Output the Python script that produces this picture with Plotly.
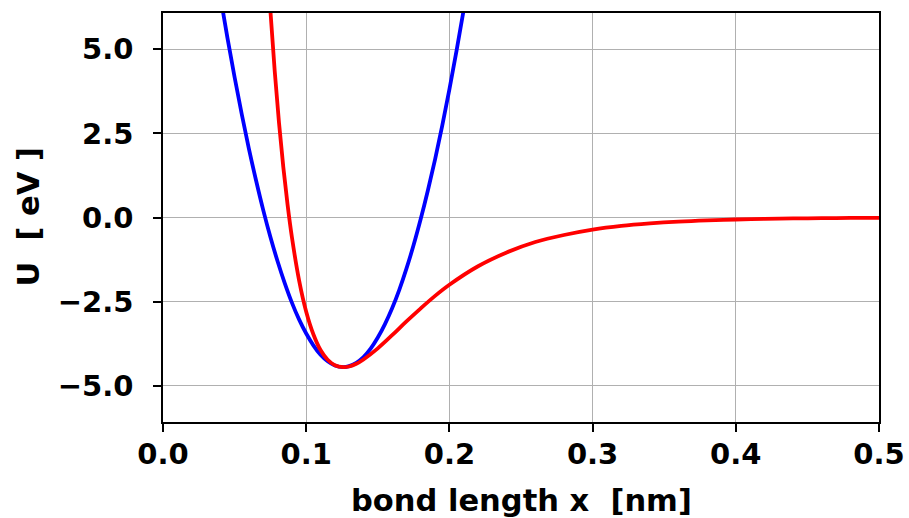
import plotly.graph_objects as go

# Morse potential (red)
morse_x = [0.072, 0.075, 0.078, 0.081, 0.084, 0.087, 0.09, 0.095, 0.1, 0.105, 0.11, 0.115,
           0.12, 0.126, 0.13, 0.135, 0.14, 0.15, 0.16, 0.17, 0.18, 0.19, 0.2, 0.22, 0.24,
           0.26, 0.28, 0.3, 0.32, 0.34, 0.36, 0.38, 0.4, 0.42, 0.44, 0.46, 0.48, 0.5]
morse_u = [8.20, 6.15, 4.36, 2.82, 1.50, 0.38, -0.58, -1.86, -2.80, -3.47, -3.94, -4.23,
           -4.39, -4.45, -4.43, -4.35, -4.22, -3.89, -3.50, -3.09, -2.70, -2.33, -2.00, -1.45, -1.04,
           -0.73, -0.52, -0.36, -0.25, -0.176, -0.122, -0.085, -0.059, -0.041, -0.028, -0.020, -0.014, -0.009]

# Harmonic approximation (blue)
harm_x = [0.04, 0.045, 0.05, 0.055, 0.06, 0.065, 0.07, 0.075, 0.08, 0.085, 0.09, 0.095,
          0.1, 0.105, 0.11, 0.115, 0.12, 0.1258, 0.13, 0.135, 0.14, 0.145, 0.15, 0.155,
          0.16, 0.165, 0.17, 0.175, 0.18, 0.185, 0.19, 0.195, 0.2, 0.205, 0.21, 0.215]
harm_u = [6.59, 5.34, 4.17, 3.07, 2.04, 1.10, 0.22, -0.58, -1.30, -1.95, -2.53, -3.03,
          -3.45, -3.80, -4.08, -4.275, -4.40, -4.45, -4.42, -4.32, -4.15, -3.90, -3.57, -3.17,
          -2.70, -2.15, -1.52, -0.82, -0.04, 0.81, 1.73, 2.73, 3.81, 4.96, 6.18, 7.49]

x_ticks = [0.0, 0.1, 0.2, 0.3, 0.4, 0.5]
y_ticks = [-5.0, -2.5, 0.0, 2.5, 5.0]

x_title = "bond length x \u00a0[nm]"
y_title = "U \u00a0[ eV ]"

FONT = "DejaVu Sans"
tick_font = dict(family=FONT, size=29, color="black", weight="bold")
title_font = dict(family=FONT, size=30.5, color="black", weight="bold")

fig = go.Figure()
fig.add_trace(go.Scatter(x=harm_x, y=harm_u, mode="lines",
                         line=dict(color="#0000ff", width=3.8, shape="spline"),
                         showlegend=False, hoverinfo="skip"))
fig.add_trace(go.Scatter(x=morse_x, y=morse_u, mode="lines",
                         line=dict(color="#ff0000", width=3.8, shape="spline"),
                         showlegend=False, hoverinfo="skip"))

axis_common = dict(
    showline=True, linecolor="black", linewidth=1.5, mirror=True,
    showgrid=True, gridcolor="#b0b0b0", gridwidth=1.1,
    ticks="outside", ticklen=8, tickwidth=1.5, tickcolor="black",
    zeroline=False, automargin=False,
    tickfont=tick_font,
)

fig.update_xaxes(range=[0, 0.5], tickvals=x_ticks, tickformat=".1f",
                 ticklabelstandoff=-3, **axis_common)
fig.update_yaxes(range=[-6.08, 6.08], tickvals=y_ticks, tickformat=".1f",
                 ticklabelstandoff=14, **axis_common)

# axis titles
fig.add_annotation(text=x_title, font=title_font, showarrow=False,
                   xref="paper", yref="paper", x=0.5, y=0,
                   xanchor="center", yanchor="middle", yshift=-78)
fig.add_annotation(text=y_title, font=title_font, showarrow=False, textangle=-90,
                   xref="paper", yref="paper", x=0, y=0.5,
                   xanchor="center", yanchor="middle", xshift=-135)

fig.update_layout(
    width=909, height=518,
    margin=dict(l=163, r=30, t=13, b=96, autoexpand=False),
    paper_bgcolor="white", plot_bgcolor="white",
    showlegend=False,
)

fig.write_html("out.html", config={"displayModeBar": False},
               post_script="document.body.style.margin='0';document.body.style.overflow='hidden';")
